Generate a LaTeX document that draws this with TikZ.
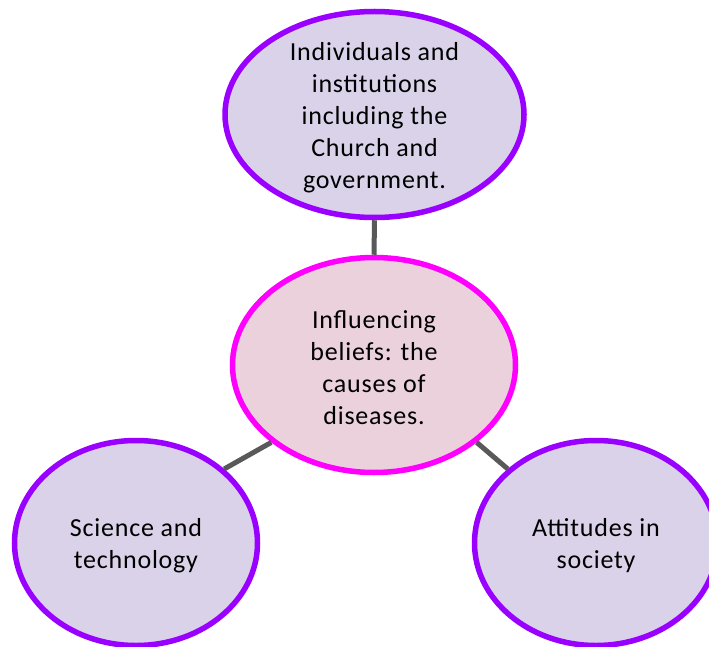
\documentclass[tikz,border=0pt]{standalone}
\usepackage{fontspec}
\setmainfont{Carlito}[LetterSpace=3]
\usetikzlibrary{shapes.geometric}
\definecolor{lav}{RGB}{217,210,233}
\definecolor{purp}{RGB}{153,0,255}
\definecolor{pinkfill}{RGB}{234,209,220}
\definecolor{mag}{RGB}{255,0,255}
\definecolor{conn}{RGB}{89,89,89}
\tikzset{
  outer/.style={ellipse, draw=purp, fill=lav, line width=5.5pt, inner sep=0pt},
  core/.style={ellipse, draw=mag, fill=pinkfill, line width=5.5pt, inner sep=0pt},
  lbl/.style={align=center, inner sep=0pt, yshift=-3pt, font=\fontsize{26}{32}\selectfont},
  link/.style={draw=conn, line width=5pt}
}
\begin{document}
\begin{tikzpicture}[x=1pt,y=-1pt]
\useasboundingbox (0,0) rectangle (709,647);
\clip (0,0) rectangle (709,647);
\fill[white] (0,0) rectangle (709,647);
\node[outer, minimum width=299pt, minimum height=206pt] (top) at (374.5,114.5) {};
\node[core, minimum width=283pt, minimum height=215pt] (mid) at (374,365) {};
\node[outer, minimum width=243pt, minimum height=205pt] (left) at (136,543) {};
\node[outer, minimum width=243pt, minimum height=205pt] (right) at (596,543) {};
\draw[link] (top.south) -- (mid.north);
\draw[link] (mid.217) -- (left.40);
\draw[link] (mid.323) -- (right.140);
\node[lbl] (toptext) at (top.center) {Individuals and\\institutions\\including the\\Church and\\government.};
\node[lbl] (midtext) at (mid.center) {Influencing\\beliefs: the\\causes of\\diseases.};
\node[lbl] (lefttext) at (left.center) {Science and\\technology};
\node[lbl] (righttext) at (right.center) {Attitudes in\\society};
\end{tikzpicture}
\end{document}
